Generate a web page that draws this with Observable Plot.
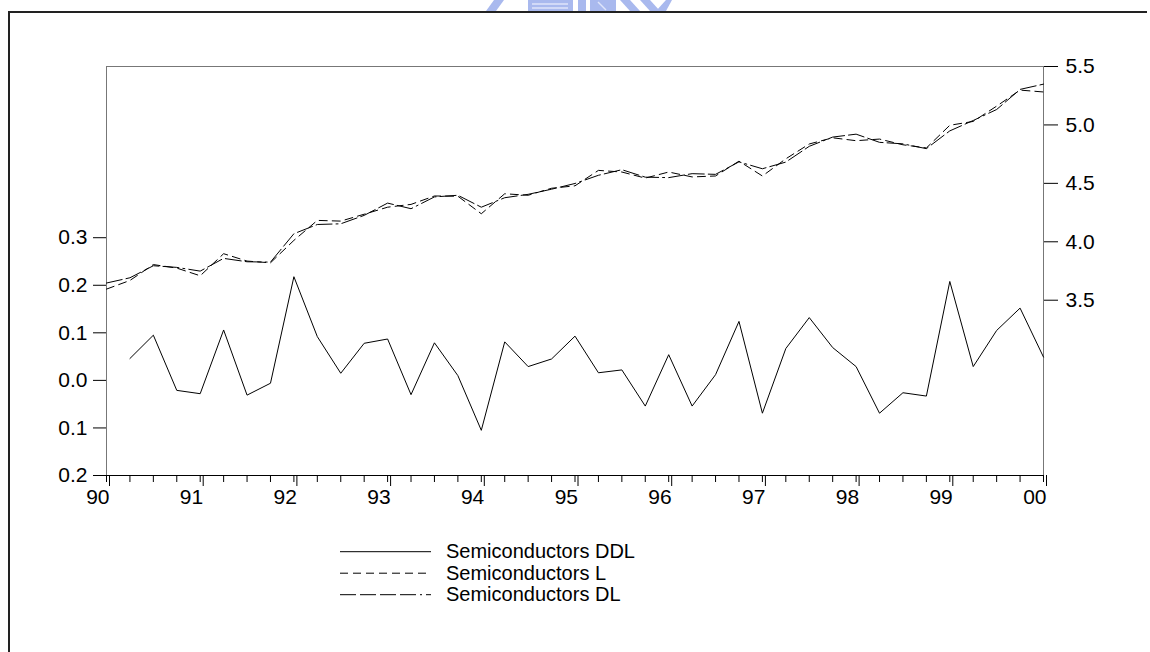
<!DOCTYPE html>
<html><head><meta charset="utf-8">
<script src="https://cdn.jsdelivr.net/npm/d3@7"></script>
<script src="https://cdn.jsdelivr.net/npm/@observablehq/plot@0.6"></script>
<style>
html,body{margin:0;padding:0;overflow:hidden;}
body{background:#fff;width:1150px;height:652px;position:relative;font-family:"Liberation Sans",Arial,sans-serif;}
#boxTop{position:absolute;left:8px;top:11px;width:1139px;height:2px;background:#222;}
#boxLeft{position:absolute;left:8px;top:11px;width:2px;height:641px;background:#222;}
#mark{position:absolute;left:480px;top:0;}
#chart{position:absolute;left:0;top:0;}
#legend{position:absolute;left:0;top:530px;}
</style></head><body>
<svg id="mark" width="200" height="12">
  <g fill="#a9b9ee">
    <polygon points="14,0 24,0 16,11 6,11"/>
    <rect x="48" y="0" width="45" height="11"/>
    <rect x="98" y="0" width="8" height="11"/>
    <rect x="110" y="0" width="26" height="11"/>
    <polygon points="140,0 150,0 160,11 150,11"/>
    <polygon points="160,0 170,0 180,11 170,11"/>
    <polygon points="176,11 186,0 192,0 186,11"/>
  </g>
  <g stroke="#dfe5fa" stroke-width="1.5">
    <line x1="52" y1="4" x2="88" y2="4"/><line x1="52" y1="8" x2="88" y2="8"/>
    <line x1="118" y1="2" x2="126" y2="10"/>
  </g>
</svg>
<div id="boxTop"></div><div id="boxLeft"></div><div id="chart"></div><svg id="legend" width="1150" height="100"></svg>
<script>
// quarterly periods
const quarters = ["1990Q1","1990Q2","1990Q3","1990Q4","1991Q1","1991Q2","1991Q3","1991Q4",
"1992Q1","1992Q2","1992Q3","1992Q4","1993Q1","1993Q2","1993Q3","1993Q4",
"1994Q1","1994Q2","1994Q3","1994Q4","1995Q1","1995Q2","1995Q3","1995Q4",
"1996Q1","1996Q2","1996Q3","1996Q4","1997Q1","1997Q2","1997Q3","1997Q4",
"1998Q1","1998Q2","1998Q3","1998Q4","1999Q1","1999Q2","1999Q3","1999Q4","2000Q1"];
// Semiconductors DDL (left axis)
const ddl = [null,0.046,0.095,-0.021,-0.028,0.106,-0.031,-0.006,0.218,0.092,0.015,0.078,0.087,-0.030,0.079,0.010,
-0.105,0.081,0.029,0.045,0.093,0.016,0.022,-0.054,0.054,-0.054,0.012,0.124,-0.069,0.067,0.132,0.069,
0.029,-0.069,-0.026,-0.033,0.208,0.029,0.105,0.152,0.049];
// Semiconductors L (right axis)
const sL = [3.595,3.669,3.805,3.775,3.709,3.898,3.835,3.820,4.012,4.183,4.177,4.236,4.296,4.320,4.392,4.390,
4.240,4.411,4.398,4.458,4.479,4.611,4.597,4.545,4.597,4.555,4.563,4.690,4.563,4.710,4.837,4.890,
4.865,4.879,4.830,4.803,4.997,5.030,5.161,5.298,5.282];
// Semiconductors DL (right axis)
const sDL = [3.647,3.692,3.795,3.781,3.749,3.858,3.829,3.826,4.069,4.148,4.154,4.226,4.331,4.283,4.384,4.398,
4.296,4.377,4.406,4.450,4.499,4.569,4.617,4.553,4.549,4.583,4.577,4.684,4.625,4.682,4.817,4.896,
4.921,4.851,4.838,4.797,4.949,5.038,5.132,5.304,5.349];

const years = [1990,1991,1992,1993,1994,1995,1996,1997,1998,1999,2000];
const yearLabels = ["90","91","92","93","94","95","96","97","98","99","00"];
const leftTicks = [-0.2,-0.1,0.0,0.1,0.2,0.3];
const leftLabels = ["0.2","0.1","0.0","0.1","0.2","0.3"];
const rightTicks = [3.5,4.0,4.5,5.0,5.5];
const rightLabels = ["3.5","4.0","4.5","5.0","5.5"];
const seriesNames = ["Semiconductors DDL","Semiconductors L","Semiconductors DL"];

const LEFT = [-0.2, 0.66], RIGHT = [2.0, 5.5];
const toLeft = v => LEFT[0] + (v - RIGHT[0]) / (RIGHT[1] - RIGHT[0]) * (LEFT[1] - LEFT[0]);
const qTime = q => +q.slice(0,4) + (+q.slice(5) - 1) / 4;

const rows = quarters.map((q,i) => ({t: qTime(q), ddl: ddl[i], l: sL[i], dl: sDL[i]}));
const rightPos = rightTicks.map(toLeft);
const DASH_L = "8,5";
const DASH_DL = "16,4,16,4,16,4,16,4,2,4";

const chart = Plot.plot({
  width: 1150, height: 520,
  marginLeft: 106, marginRight: 107, marginTop: 66, marginBottom: 45,
  style: {fontFamily: "'Liberation Sans', Arial, sans-serif", fontSize: "21px", color: "#000", background: "transparent"},
  x: {domain: [1990, 2000]},
  y: {domain: LEFT},
  marks: [
    Plot.frame({stroke: "#777"}),
    Plot.axisX({ticks: rows.map(d => d.t), tickSize: 7, tickFormat: () => "", label: null}),
    Plot.axisX({ticks: years, tickSize: 11, tickPadding: 3, textAnchor: "end", dx: 3,
      tickFormat: d => yearLabels[years.indexOf(d)], label: null}),
    Plot.axisY({ticks: leftTicks, tickSize: 13, tickPadding: 6,
      tickFormat: d => leftLabels[leftTicks.indexOf(d)], label: null}),
    Plot.axisY({anchor: "right", ticks: rightPos, tickSize: 14, tickPadding: 8,
      tickFormat: d => rightLabels[rightPos.indexOf(d)], label: null}),
    Plot.ruleY([LEFT[0]], {stroke: "#000"}),
    Plot.line(rows, {x: "t", y: d => toLeft(d.l), stroke: "#000", strokeWidth: 1, strokeDasharray: DASH_L}),
    Plot.line(rows, {x: "t", y: d => toLeft(d.dl), stroke: "#000", strokeWidth: 1, strokeDasharray: DASH_DL}),
    Plot.line(rows, {x: "t", y: "ddl", stroke: "#000", strokeWidth: 1})
  ]
});
document.getElementById("chart").appendChild(chart);

// legend
const leg = d3.select("#legend");
const dashes = [null, DASH_L, DASH_DL];
seriesNames.forEach((name, i) => {
  const y = 21.7 + i * 21.5;
  leg.append("line").attr("x1", 340).attr("x2", 431).attr("y1", y).attr("y2", y)
    .attr("stroke", "#000").attr("stroke-width", 1).attr("stroke-dasharray", dashes[i]);
  leg.append("text").attr("x", 446).attr("y", y + 6.5).text(name)
    .attr("font-family", "'Liberation Sans', Arial, sans-serif").attr("font-size", 20).attr("fill", "#000");
});
</script>
</body></html>
